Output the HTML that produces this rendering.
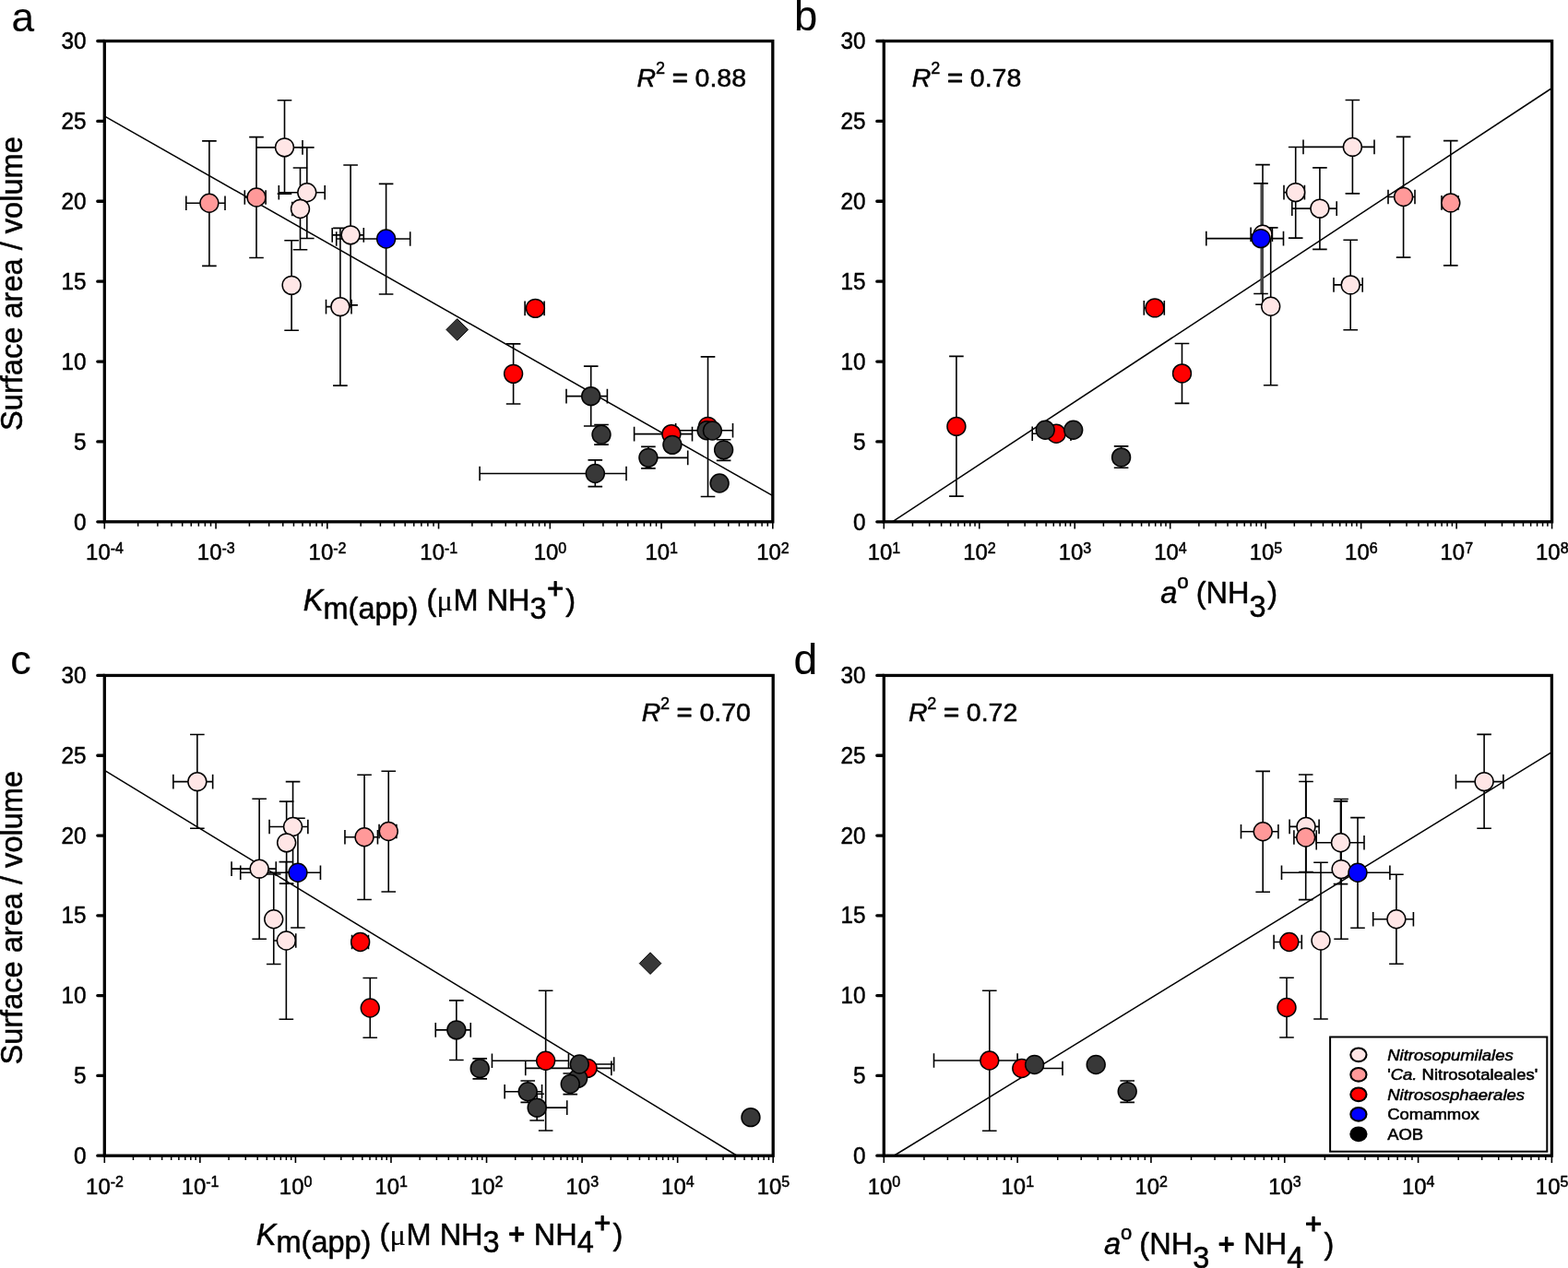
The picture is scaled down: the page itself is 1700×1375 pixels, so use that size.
<!DOCTYPE html>
<html lang="en"><head><meta charset="utf-8"><title>Surface area / volume vs. kinetics</title>
<style>html,body{margin:0;padding:0;background:#fff}body{width:1700px;height:1375px;overflow:hidden}svg{display:block}text{font-family:'Liberation Sans', sans-serif;fill:#000;stroke:#000;stroke-width:.5px;stroke-linejoin:round}</style>
</head><body>
<svg width="1700" height="1375" viewBox="0 0 1700 1375">
<rect width="1700" height="1375" fill="#fff"/>
<g id="panel-a">
<line x1="113.6" y1="126.2" x2="837.9" y2="537.6" stroke="#000" stroke-width="1.5"/>
<g transform="translate(0.1 0.35)">
<g fill="none" stroke="#000" stroke-width="1.6">
<path d="M308.4 108.4V209.8M300.6 108.4H316.2M300.6 209.8H316.2M277.9 159.5H327.9M327.9 151.7V167.3"/>
<path d="M332.7 159.5V258.2M324.9 159.5H340.5M324.9 258.2H340.5M302.2 208.4H352.1M302.2 200.6V216.2M352.1 200.6V216.2"/>
<path d="M325.4 181.6V270.4M317.6 181.6H333.2M317.6 270.4H333.2M316.7 226.2H331M316.7 218.4V234M331 218.4V234"/>
<path d="M316 260.4V357.9M308.2 260.4H323.8M308.2 357.9H323.8"/>
<path d="M368.8 247V417.8M361 247H376.6M361 417.8H376.6M353.4 332.3H380.9M353.4 324.5V340.1M380.9 324.5V340.1"/>
<path d="M380 178.7V330.5M372.2 178.7H387.8M372.2 330.5H387.8M360.1 254.5H394.2M360.1 246.7V262.3M394.2 246.7V262.3"/>
<path d="M226.8 152.5V288M219 152.5H234.6M219 288H234.6M201.7 219.9H243.9M201.7 212.1V227.7M243.9 212.1V227.7"/>
<path d="M277.9 148.3V279.2M270.1 148.3H285.7M270.1 279.2H285.7M265.2 213.6H288M265.2 205.8V221.4M288 205.8V221.4"/>
<path d="M556.5 372.5V437.6M548.7 372.5H564.3M548.7 437.6H564.3"/>
<path d="M569 334H590M569 326.2V341.8M590 326.2V341.8"/>
<path d="M687.5 470.3H750.4M687.5 462.5V478.1M750.4 462.5V478.1"/>
<path d="M767.4 386.5V538.2M759.6 386.5H775.2M759.6 538.2H775.2"/>
<path d="M418.5 199V318.7M410.7 199H426.3M410.7 318.7H426.3M364.6 258.6H444.6M364.6 250.8V266.4M444.6 250.8V266.4"/>
<path d="M640.6 396.8V461.6M632.8 396.8H648.4M632.8 461.6H648.4M613.9 429.3H658.3M613.9 421.5V437.1M658.3 421.5V437.1"/>
<path d="M651.9 460.2V481.8M644.1 460.2H659.7M644.1 481.8H659.7"/>
<path d="M645.2 498.5V527.3M637.4 498.5H653M637.4 527.3H653M520 513.1H678.9M520 505.3V520.9M678.9 505.3V520.9"/>
<path d="M702.8 484V507.5M695 484H710.6M695 507.5H710.6M702.8 496H745.6M745.6 488.2V503.8"/>
<path d="M732.5 466.4H794.4M732.5 458.6V474.2M794.4 458.6V474.2"/>
<path d="M784.5 476.4V499M776.7 476.4H792.3M776.7 499H792.3"/>
</g>
<g stroke="#000" stroke-width="1.5">
<circle cx="308.4" cy="159.5" r="9.95" fill="#FFE6E6"/>
<circle cx="332.7" cy="208.4" r="9.95" fill="#FFE6E6"/>
<circle cx="325.4" cy="226.2" r="9.95" fill="#FFE6E6"/>
<circle cx="316" cy="309" r="9.95" fill="#FFE6E6"/>
<circle cx="368.8" cy="332.3" r="9.95" fill="#FFE6E6"/>
<circle cx="380" cy="254.5" r="9.95" fill="#FFE6E6"/>
<circle cx="226.8" cy="219.9" r="9.95" fill="#FF9999"/>
<circle cx="277.9" cy="213.6" r="9.95" fill="#FF9999"/>
<circle cx="556.5" cy="405" r="9.95" fill="#FF0000"/>
<circle cx="580.3" cy="334" r="9.95" fill="#FF0000"/>
<circle cx="727.8" cy="470.3" r="9.95" fill="#FF0000"/>
<circle cx="767.4" cy="462" r="9.95" fill="#FF0000"/>
<circle cx="418.5" cy="258.6" r="9.95" fill="#0000FF"/>
<path d="M483.8 357.1L495.6 345.3L507.4 357.1L495.6 368.9Z" fill="#383838" stroke-width="1"/>
<circle cx="640.6" cy="429.3" r="9.95" fill="#383838"/>
<circle cx="651.9" cy="470.9" r="9.95" fill="#383838"/>
<circle cx="645.2" cy="513.1" r="9.95" fill="#383838"/>
<circle cx="702.8" cy="496" r="9.95" fill="#383838"/>
<circle cx="728.8" cy="482" r="9.95" fill="#383838"/>
<circle cx="766" cy="466.4" r="9.95" fill="#383838"/>
<circle cx="772.3" cy="466.6" r="9.95" fill="#383838"/>
<circle cx="784.5" cy="487.5" r="9.95" fill="#383838"/>
<circle cx="780" cy="523.6" r="9.95" fill="#383838"/>
</g>
</g>
<rect x="113.3" y="44.5" width="724.5" height="521.3" fill="none" stroke="#000" stroke-width="3.3"/>
<path d="M105.8 565.8H113.3M105.8 478.92H113.3M105.8 392.03H113.3M105.8 305.15H113.3M105.8 218.27H113.3M105.8 131.38H113.3M105.8 44.5H113.3" stroke="#000" stroke-width="3.3" stroke-linecap="round" fill="none"/>
<path d="M113.3 565.8V573.6M234.05 565.8V573.6M354.8 565.8V573.6M475.55 565.8V573.6M596.3 565.8V573.6M717.05 565.8V573.6M837.8 565.8V573.6" stroke="#000" stroke-width="1.6" fill="none"/>
<path d="M149.65 565.8V570.7M170.91 565.8V570.7M186 565.8V570.7M197.7 565.8V570.7M207.26 565.8V570.7M215.35 565.8V570.7M222.35 565.8V570.7M228.52 565.8V570.7M270.4 565.8V570.7M291.66 565.8V570.7M306.75 565.8V570.7M318.45 565.8V570.7M328.01 565.8V570.7M336.1 565.8V570.7M343.1 565.8V570.7M349.27 565.8V570.7M391.15 565.8V570.7M412.41 565.8V570.7M427.5 565.8V570.7M439.2 565.8V570.7M448.76 565.8V570.7M456.85 565.8V570.7M463.85 565.8V570.7M470.02 565.8V570.7M511.9 565.8V570.7M533.16 565.8V570.7M548.25 565.8V570.7M559.95 565.8V570.7M569.51 565.8V570.7M577.6 565.8V570.7M584.6 565.8V570.7M590.77 565.8V570.7M632.65 565.8V570.7M653.91 565.8V570.7M669 565.8V570.7M680.7 565.8V570.7M690.26 565.8V570.7M698.35 565.8V570.7M705.35 565.8V570.7M711.52 565.8V570.7M753.4 565.8V570.7M774.66 565.8V570.7M789.75 565.8V570.7M801.45 565.8V570.7M811.01 565.8V570.7M819.1 565.8V570.7M826.1 565.8V570.7M832.27 565.8V570.7" stroke="#000" stroke-width="1.5" fill="none"/>
<g font-size="25" text-anchor="end">
<text transform="translate(93.5 574.5) scale(.972 1)">0</text>
<text transform="translate(93.5 487.62) scale(.972 1)">5</text>
<text transform="translate(93.5 400.73) scale(.972 1)">10</text>
<text transform="translate(93.5 313.85) scale(.972 1)">15</text>
<text transform="translate(93.5 226.97) scale(.972 1)">20</text>
<text transform="translate(93.5 140.08) scale(.972 1)">25</text>
<text transform="translate(93.5 53.2) scale(.972 1)">30</text>
</g>
<g font-size="23.9" text-anchor="middle">
<text x="113.5" y="607">10<tspan font-size="16" dy="-7.5">-4</tspan></text>
<text x="234.25" y="607">10<tspan font-size="16" dy="-7.5">-3</tspan></text>
<text x="355" y="607">10<tspan font-size="16" dy="-7.5">-2</tspan></text>
<text x="475.75" y="607">10<tspan font-size="16" dy="-7.5">-1</tspan></text>
<text x="596.5" y="607">10<tspan font-size="16" dy="-7.5">0</tspan></text>
<text x="717.25" y="607">10<tspan font-size="16" dy="-7.5">1</tspan></text>
<text x="838" y="607">10<tspan font-size="16" dy="-7.5">2</tspan></text>
</g>
<text x="12.5" y="33.9" font-size="44.2" style="stroke-width:.1px">a</text>
<text x="690.5" y="93.8" font-size="28.5"><tspan font-style="italic">R</tspan><tspan font-size="18" dx="0" dy="-13.6">2</tspan><tspan dy="13.6"> </tspan><tspan stroke-width="1.2">=</tspan><tspan> 0.88</tspan></text>
<text transform="translate(24.1 307.55) rotate(-90)" font-size="32.6" text-anchor="middle">Surface area / volume</text>
<text x="328.8" y="662.3" font-size="32.5"><tspan font-style="italic">K</tspan><tspan dy="8.2">m(app)</tspan><tspan dy="-8.2"> (</tspan><tspan font-family="'Liberation Serif', serif" stroke-width="0.2" dx="0.3">μ</tspan><tspan dx="0.5">M NH</tspan><tspan dy="8.2">3</tspan><tspan font-size="30.5" dx="0.6" dy="-21.6" stroke-width="1.05">+</tspan><tspan dx="2.2" dy="13.4">)</tspan></text>
</g>
<g id="panel-b">
<line x1="967.4" y1="565.8" x2="1682.6" y2="95.5" stroke="#000" stroke-width="1.5"/>
<g transform="translate(0 -0.1)">
<g fill="none" stroke="#000" stroke-width="1.6">
<path d="M1466.4 108.6V210M1458.6 108.6H1474.2M1458.6 210H1474.2M1413 159.5H1490M1413 151.7V167.3M1490 151.7V167.3"/>
<path d="M1404.7 159.6V258.2M1396.9 159.6H1412.5M1396.9 258.2H1412.5M1392 208.7H1414.4M1392 200.9V216.5M1414.4 200.9V216.5"/>
<path d="M1430.9 182V270.5M1423.1 182H1438.7M1423.1 270.5H1438.7M1400.8 226.2H1449.2M1400.8 218.4V234M1449.2 218.4V234"/>
<path d="M1464.2 260.4V357.9M1456.4 260.4H1472M1456.4 357.9H1472M1446 309H1477.2M1446 301.2V316.8M1477.2 301.2V316.8"/>
<path d="M1369 178.7V330.4M1361.2 178.7H1376.8M1361.2 330.4H1376.8M1356.1 254.4H1379.4M1356.1 246.6V262.2M1379.4 246.6V262.2"/>
<path d="M1377.7 247V417.8M1369.9 247H1385.5M1369.9 417.8H1385.5"/>
<path d="M1521.6 148.5V279.2M1513.8 148.5H1529.4M1513.8 279.2H1529.4M1505 213.6H1534M1505 205.8V221.4M1534 205.8V221.4"/>
<path d="M1572.8 152.7V288M1565 152.7H1580.6M1565 288H1580.6M1563 220H1581M1563 212.2V227.8M1581 212.2V227.8"/>
<path d="M1036.9 386.5V538.2M1029.1 386.5H1044.7M1029.1 538.2H1044.7"/>
<path d="M1119.2 470.4H1161M1119.2 462.6V478.2M1161 462.6V478.2"/>
<path d="M1240.3 334H1262.3M1240.3 326.2V341.8M1262.3 326.2V341.8"/>
<path d="M1281.5 372.6V437.5M1273.7 372.6H1289.3M1273.7 437.5H1289.3"/>
<line x1="1368.2" y1="199" x2="1368.2" y2="318.6" stroke="#444" stroke-width="3.5"/>
<path d="M1359.2 199H1374.8M1359.2 318.6H1374.8M1307.8 258.7H1391.5M1307.8 250.9V266.5M1391.5 250.9V266.5"/>
<path d="M1215.6 484V507.4M1207.8 484H1223.4M1207.8 507.4H1223.4"/>
</g>
<g stroke="#000" stroke-width="1.5">
<circle cx="1466.4" cy="159.5" r="9.95" fill="#FFE6E6"/>
<circle cx="1404.7" cy="208.7" r="9.95" fill="#FFE6E6"/>
<circle cx="1430.9" cy="226.2" r="9.95" fill="#FFE6E6"/>
<circle cx="1464.2" cy="309" r="9.95" fill="#FFE6E6"/>
<circle cx="1369" cy="254.4" r="9.95" fill="#FFE6E6"/>
<circle cx="1377.7" cy="332.4" r="9.95" fill="#FFE6E6"/>
<circle cx="1521.6" cy="213.6" r="9.95" fill="#FF9999"/>
<circle cx="1572.8" cy="220" r="9.95" fill="#FF9999"/>
<circle cx="1036.9" cy="462.5" r="9.95" fill="#FF0000"/>
<circle cx="1145.2" cy="470.4" r="9.95" fill="#FF0000"/>
<circle cx="1252" cy="334" r="9.95" fill="#FF0000"/>
<circle cx="1281.5" cy="405" r="9.95" fill="#FF0000"/>
<circle cx="1367" cy="258.7" r="9.95" fill="#0000FF"/>
<circle cx="1133.2" cy="466.4" r="9.95" fill="#383838"/>
<circle cx="1163.7" cy="466.4" r="9.95" fill="#383838"/>
<circle cx="1215.6" cy="496" r="9.95" fill="#383838"/>
</g>
</g>
<rect x="958.3" y="44.5" width="724.3" height="521.3" fill="none" stroke="#000" stroke-width="3.3"/>
<path d="M950.8 565.8H958.3M950.8 478.92H958.3M950.8 392.03H958.3M950.8 305.15H958.3M950.8 218.27H958.3M950.8 131.38H958.3M950.8 44.5H958.3" stroke="#000" stroke-width="3.3" stroke-linecap="round" fill="none"/>
<path d="M958.3 565.8V573.6M1061.77 565.8V573.6M1165.24 565.8V573.6M1268.71 565.8V573.6M1372.19 565.8V573.6M1475.66 565.8V573.6M1579.13 565.8V573.6M1682.6 565.8V573.6" stroke="#000" stroke-width="1.6" fill="none"/>
<path d="M989.45 565.8V570.7M1007.67 565.8V570.7M1020.6 565.8V570.7M1030.62 565.8V570.7M1038.82 565.8V570.7M1045.74 565.8V570.7M1051.74 565.8V570.7M1057.04 565.8V570.7M1092.92 565.8V570.7M1111.14 565.8V570.7M1124.07 565.8V570.7M1134.09 565.8V570.7M1142.29 565.8V570.7M1149.21 565.8V570.7M1155.22 565.8V570.7M1160.51 565.8V570.7M1196.39 565.8V570.7M1214.61 565.8V570.7M1227.54 565.8V570.7M1237.57 565.8V570.7M1245.76 565.8V570.7M1252.69 565.8V570.7M1258.69 565.8V570.7M1263.98 565.8V570.7M1299.86 565.8V570.7M1318.08 565.8V570.7M1331.01 565.8V570.7M1341.04 565.8V570.7M1349.23 565.8V570.7M1356.16 565.8V570.7M1362.16 565.8V570.7M1367.45 565.8V570.7M1403.33 565.8V570.7M1421.55 565.8V570.7M1434.48 565.8V570.7M1444.51 565.8V570.7M1452.7 565.8V570.7M1459.63 565.8V570.7M1465.63 565.8V570.7M1470.92 565.8V570.7M1506.81 565.8V570.7M1525.03 565.8V570.7M1537.95 565.8V570.7M1547.98 565.8V570.7M1556.17 565.8V570.7M1563.1 565.8V570.7M1569.1 565.8V570.7M1574.39 565.8V570.7M1610.28 565.8V570.7M1628.5 565.8V570.7M1641.42 565.8V570.7M1651.45 565.8V570.7M1659.64 565.8V570.7M1666.57 565.8V570.7M1672.57 565.8V570.7M1677.87 565.8V570.7" stroke="#000" stroke-width="1.5" fill="none"/>
<g font-size="25" text-anchor="end">
<text transform="translate(938.5 574.5) scale(.972 1)">0</text>
<text transform="translate(938.5 487.62) scale(.972 1)">5</text>
<text transform="translate(938.5 400.73) scale(.972 1)">10</text>
<text transform="translate(938.5 313.85) scale(.972 1)">15</text>
<text transform="translate(938.5 226.97) scale(.972 1)">20</text>
<text transform="translate(938.5 140.08) scale(.972 1)">25</text>
<text transform="translate(938.5 53.2) scale(.972 1)">30</text>
</g>
<g font-size="23.9" text-anchor="middle">
<text x="958.5" y="607">10<tspan font-size="16" dy="-7.5">1</tspan></text>
<text x="1061.97" y="607">10<tspan font-size="16" dy="-7.5">2</tspan></text>
<text x="1165.44" y="607">10<tspan font-size="16" dy="-7.5">3</tspan></text>
<text x="1268.91" y="607">10<tspan font-size="16" dy="-7.5">4</tspan></text>
<text x="1372.39" y="607">10<tspan font-size="16" dy="-7.5">5</tspan></text>
<text x="1475.86" y="607">10<tspan font-size="16" dy="-7.5">6</tspan></text>
<text x="1579.33" y="607">10<tspan font-size="16" dy="-7.5">7</tspan></text>
<text x="1682.8" y="607">10<tspan font-size="16" dy="-7.5">8</tspan></text>
</g>
<text x="861.1" y="33.4" font-size="45.3" style="stroke-width:.1px">b</text>
<text x="988.7" y="93.8" font-size="28.5"><tspan font-style="italic">R</tspan><tspan font-size="18" dx="0" dy="-13.6">2</tspan><tspan dy="13.6"> </tspan><tspan stroke-width="1.2">=</tspan><tspan> 0.78</tspan></text>
<text x="1258.2" y="654.3" font-size="32.5"><tspan font-style="italic">a</tspan><tspan font-size="22.3" dy="-16.6">o</tspan><tspan dx="-1" dy="16.6"> (NH</tspan><tspan dy="14.2">3</tspan><tspan dx="1.6" dy="-14.2">)</tspan></text>
</g>
<g id="panel-c">
<line x1="113.8" y1="835.7" x2="798.6" y2="1253" stroke="#000" stroke-width="1.5"/>
<g transform="translate(0.25 0.25)">
<g fill="none" stroke="#000" stroke-width="1.6">
<path d="M213.6 796.2V898M205.8 796.2H221.4M205.8 898H221.4M187.6 847.4H230.4M187.6 839.6V855.2M230.4 839.6V855.2"/>
<path d="M317.3 847.4V945.5M309.5 847.4H325.1M309.5 945.5H325.1M291.8 896.3H333.6M291.8 888.5V904.1M333.6 888.5V904.1"/>
<path d="M310.4 868.9V957.9M302.6 868.9H318.2M302.6 957.9H318.2"/>
<path d="M296.5 947.8V1045.3M288.7 947.8H304.3M288.7 1045.3H304.3"/>
<path d="M280.9 866V1018M273.1 866H288.7M273.1 1018H288.7M250.8 941.9H299M250.8 934.1V949.7M299 934.1V949.7"/>
<path d="M310.1 934.4V1105M302.3 934.4H317.9M302.3 1105H317.9M296.5 1019.7H320.5M320.5 1011.9V1027.5"/>
<path d="M394.8 840V975.2M387 840H402.6M387 975.2H402.6M373.7 907.5H409.2M373.7 899.7V915.3M409.2 899.7V915.3"/>
<path d="M421 836V966.7M413.2 836H428.8M413.2 966.7H428.8M410.8 901.2H429.6M410.8 893.4V909M429.6 893.4V909"/>
<path d="M381.3 1021.3H399.2M381.3 1013.5V1029.1M399.2 1013.5V1029.1"/>
<path d="M401 1060.2V1125M393.2 1060.2H408.8M393.2 1125H408.8"/>
<path d="M591.4 1074V1225.7M583.6 1074H599.2M583.6 1225.7H599.2M533.2 1150H616.2M533.2 1142.2V1157.8M616.2 1142.2V1157.8"/>
<path d="M569.5 1158.1H662.6M569.5 1150.3V1165.9M662.6 1150.3V1165.9"/>
<path d="M322.7 887V1005.8M314.9 887H330.5M314.9 1005.8H330.5M260.5 946H347.2M260.5 938.2V953.8M347.2 938.2V953.8"/>
<path d="M494.6 1084.6V1149.2M486.8 1084.6H502.4M486.8 1149.2H502.4M472 1116.6H510M472 1108.8V1124.4M510 1108.8V1124.4"/>
<path d="M520 1147.6V1169.6M512.2 1147.6H527.8M512.2 1169.6H527.8"/>
<path d="M628 1153.8H665.4M665.4 1146V1161.6"/>
<path d="M618 1163.8V1186.4M610.2 1163.8H625.8M610.2 1186.4H625.8"/>
<path d="M572 1171.7V1195.1M564.2 1171.7H579.8M564.2 1195.1H579.8M546.9 1183.5H587.3M546.9 1175.7V1191.3M587.3 1175.7V1191.3"/>
<path d="M581.9 1186V1214.8M574.1 1186H589.7M574.1 1214.8H589.7M581.9 1200.9H614.5M614.5 1193.1V1208.7"/>
</g>
<g stroke="#000" stroke-width="1.5">
<circle cx="213.6" cy="847.4" r="9.95" fill="#FFE6E6"/>
<circle cx="317.3" cy="896.3" r="9.95" fill="#FFE6E6"/>
<circle cx="310.4" cy="913.6" r="9.95" fill="#FFE6E6"/>
<circle cx="296.5" cy="996.5" r="9.95" fill="#FFE6E6"/>
<circle cx="280.9" cy="941.9" r="9.95" fill="#FFE6E6"/>
<circle cx="310.1" cy="1019.7" r="9.95" fill="#FFE6E6"/>
<circle cx="394.8" cy="907.5" r="9.95" fill="#FF9999"/>
<circle cx="421" cy="901.2" r="9.95" fill="#FF9999"/>
<circle cx="390.4" cy="1021.3" r="9.95" fill="#FF0000"/>
<circle cx="401" cy="1092.8" r="9.95" fill="#FF0000"/>
<circle cx="591.4" cy="1150" r="9.95" fill="#FF0000"/>
<circle cx="636.8" cy="1158.1" r="9.95" fill="#FF0000"/>
<circle cx="322.7" cy="946" r="9.95" fill="#0000FF"/>
<path d="M693 1044.4L704.8 1032.6L716.6 1044.4L704.8 1056.2Z" fill="#383838" stroke-width="1"/>
<circle cx="494.6" cy="1116.6" r="9.95" fill="#383838"/>
<circle cx="520" cy="1158.4" r="9.95" fill="#383838"/>
<circle cx="626.4" cy="1169.1" r="9.95" fill="#383838"/>
<circle cx="628" cy="1153.8" r="9.95" fill="#383838"/>
<circle cx="618" cy="1175.2" r="9.95" fill="#383838"/>
<circle cx="572" cy="1183.5" r="9.95" fill="#383838"/>
<circle cx="581.9" cy="1200.9" r="9.95" fill="#383838"/>
<circle cx="813.7" cy="1211.4" r="9.95" fill="#383838"/>
</g>
</g>
<rect x="113.3" y="732.45" width="724.9" height="520.75" fill="none" stroke="#000" stroke-width="3.3"/>
<path d="M105.8 1253.2H113.3M105.8 1166.41H113.3M105.8 1079.62H113.3M105.8 992.83H113.3M105.8 906.03H113.3M105.8 819.24H113.3M105.8 732.45H113.3" stroke="#000" stroke-width="3.3" stroke-linecap="round" fill="none"/>
<path d="M113.3 1253.2V1261M216.86 1253.2V1261M320.41 1253.2V1261M423.97 1253.2V1261M527.53 1253.2V1261M631.09 1253.2V1261M734.64 1253.2V1261M838.2 1253.2V1261" stroke="#000" stroke-width="1.6" fill="none"/>
<path d="M144.47 1253.2V1258.1M162.71 1253.2V1258.1M175.65 1253.2V1258.1M185.68 1253.2V1258.1M193.88 1253.2V1258.1M200.82 1253.2V1258.1M206.82 1253.2V1258.1M212.12 1253.2V1258.1M248.03 1253.2V1258.1M266.27 1253.2V1258.1M279.2 1253.2V1258.1M289.24 1253.2V1258.1M297.44 1253.2V1258.1M304.37 1253.2V1258.1M310.38 1253.2V1258.1M315.68 1253.2V1258.1M351.59 1253.2V1258.1M369.82 1253.2V1258.1M382.76 1253.2V1258.1M392.8 1253.2V1258.1M401 1253.2V1258.1M407.93 1253.2V1258.1M413.94 1253.2V1258.1M419.23 1253.2V1258.1M455.15 1253.2V1258.1M473.38 1253.2V1258.1M486.32 1253.2V1258.1M496.35 1253.2V1258.1M504.55 1253.2V1258.1M511.49 1253.2V1258.1M517.49 1253.2V1258.1M522.79 1253.2V1258.1M558.7 1253.2V1258.1M576.94 1253.2V1258.1M589.88 1253.2V1258.1M599.91 1253.2V1258.1M608.11 1253.2V1258.1M615.04 1253.2V1258.1M621.05 1253.2V1258.1M626.35 1253.2V1258.1M662.26 1253.2V1258.1M680.5 1253.2V1258.1M693.43 1253.2V1258.1M703.47 1253.2V1258.1M711.67 1253.2V1258.1M718.6 1253.2V1258.1M724.61 1253.2V1258.1M729.9 1253.2V1258.1M765.82 1253.2V1258.1M784.05 1253.2V1258.1M796.99 1253.2V1258.1M807.03 1253.2V1258.1M815.23 1253.2V1258.1M822.16 1253.2V1258.1M828.16 1253.2V1258.1M833.46 1253.2V1258.1" stroke="#000" stroke-width="1.5" fill="none"/>
<g font-size="25" text-anchor="end">
<text transform="translate(93.5 1261.8) scale(.972 1)">0</text>
<text transform="translate(93.5 1175.01) scale(.972 1)">5</text>
<text transform="translate(93.5 1088.22) scale(.972 1)">10</text>
<text transform="translate(93.5 1001.43) scale(.972 1)">15</text>
<text transform="translate(93.5 914.63) scale(.972 1)">20</text>
<text transform="translate(93.5 827.84) scale(.972 1)">25</text>
<text transform="translate(93.5 741.05) scale(.972 1)">30</text>
</g>
<g font-size="23.9" text-anchor="middle">
<text x="113.5" y="1294.5">10<tspan font-size="16" dy="-7.5">-2</tspan></text>
<text x="217.06" y="1294.5">10<tspan font-size="16" dy="-7.5">-1</tspan></text>
<text x="320.61" y="1294.5">10<tspan font-size="16" dy="-7.5">0</tspan></text>
<text x="424.17" y="1294.5">10<tspan font-size="16" dy="-7.5">1</tspan></text>
<text x="527.73" y="1294.5">10<tspan font-size="16" dy="-7.5">2</tspan></text>
<text x="631.29" y="1294.5">10<tspan font-size="16" dy="-7.5">3</tspan></text>
<text x="734.84" y="1294.5">10<tspan font-size="16" dy="-7.5">4</tspan></text>
<text x="838.4" y="1294.5">10<tspan font-size="16" dy="-7.5">5</tspan></text>
</g>
<text x="11.2" y="730.8" font-size="45" style="stroke-width:.1px">c</text>
<text x="695.7" y="782.45" font-size="28.5"><tspan font-style="italic">R</tspan><tspan font-size="18" dx="-0.4" dy="-13">2</tspan><tspan dy="13"> </tspan><tspan stroke-width="1.2">=</tspan><tspan> 0.70</tspan></text>
<text transform="translate(24.1 995.23) rotate(-90)" font-size="32.6" text-anchor="middle">Surface area / volume</text>
<text x="277.8" y="1350" font-size="32.5"><tspan font-style="italic">K</tspan><tspan dy="8.2">m(app)</tspan><tspan dy="-8.2"> (</tspan><tspan font-family="'Liberation Serif', serif" stroke-width="0.2" dx="0.3">μ</tspan><tspan dx="0.5">M NH</tspan><tspan dy="8.2">3</tspan><tspan dy="-8.2"> </tspan><tspan font-size="30.5" dx="0.6" dy="-0.7" stroke-width="1.3">+</tspan><tspan dx="0.6" dy="0.7"> NH</tspan><tspan dy="8.2">4</tspan><tspan font-size="30.5" dx="0.6" dy="-21.6" stroke-width="1.05">+</tspan><tspan dx="2.2" dy="13.4">)</tspan></text>
</g>
<g id="panel-d">
<line x1="969.6" y1="1253" x2="1682.4" y2="815.6" stroke="#000" stroke-width="1.5"/>
<g transform="translate(0 0)">
<g fill="none" stroke="#000" stroke-width="1.6">
<path d="M1609.1 796.4V898.3M1601.3 796.4H1616.9M1601.3 898.3H1616.9M1578.5 847.6H1629.9M1578.5 839.8V855.4M1629.9 839.8V855.4"/>
<path d="M1416 847.5V945.5M1408.2 847.5H1423.8M1408.2 945.5H1423.8M1398.1 896.4H1430.1M1398.1 888.6V904.2M1430.1 888.6V904.2"/>
<path d="M1453.5 868.9V958.6M1445.7 868.9H1461.3M1445.7 958.6H1461.3M1427.2 913.8H1479M1427.2 906V921.6M1479 906V921.6"/>
<path d="M1454.1 866.5V1018.3M1446.3 866.5H1461.9M1446.3 1018.3H1461.9"/>
<path d="M1432 935.3V1105M1424.2 935.3H1439.8M1424.2 1105H1439.8"/>
<path d="M1513.9 948.3V1045.2M1506.1 948.3H1521.7M1506.1 1045.2H1521.7M1488.7 996.7H1532.4M1488.7 988.9V1004.5M1532.4 988.9V1004.5"/>
<path d="M1369.2 836.4V967.3M1361.4 836.4H1377M1361.4 967.3H1377M1345.5 901.7H1385.9M1345.5 893.9V909.5M1385.9 893.9V909.5"/>
<path d="M1415.7 840V975.6M1407.9 840H1423.5M1407.9 975.6H1423.5M1402.9 908H1427.2M1402.9 900.2V915.8M1427.2 900.2V915.8"/>
<path d="M1381.1 1021.5H1411.3M1381.1 1013.7V1029.3M1411.3 1013.7V1029.3"/>
<path d="M1395 1060.2V1125M1387.2 1060.2H1402.8M1387.2 1125H1402.8"/>
<path d="M1107.8 1158.5H1152M1152 1150.7V1166.3"/>
<path d="M1072.8 1074.3V1226.3M1065 1074.3H1080.6M1065 1226.3H1080.6M1012.5 1150H1103.1M1012.5 1142.2V1157.8M1103.1 1142.2V1157.8"/>
<path d="M1472 886.6V1006.2M1464.2 886.6H1479.8M1464.2 1006.2H1479.8M1389.5 946.3H1506.9M1389.5 938.5V954.1M1506.9 938.5V954.1"/>
<path d="M1222.2 1172V1195.4M1214.4 1172H1230M1214.4 1195.4H1230"/>
</g>
<g stroke="#000" stroke-width="1.5">
<circle cx="1609.1" cy="847.6" r="9.95" fill="#FFE6E6"/>
<circle cx="1416" cy="896.4" r="9.95" fill="#FFE6E6"/>
<circle cx="1453.5" cy="913.8" r="9.95" fill="#FFE6E6"/>
<circle cx="1454.1" cy="942.6" r="9.95" fill="#FFE6E6"/>
<circle cx="1432" cy="1020" r="9.95" fill="#FFE6E6"/>
<circle cx="1513.9" cy="996.7" r="9.95" fill="#FFE6E6"/>
<circle cx="1369.2" cy="901.7" r="9.95" fill="#FF9999"/>
<circle cx="1415.7" cy="908" r="9.95" fill="#FF9999"/>
<circle cx="1397.8" cy="1021.5" r="9.95" fill="#FF0000"/>
<circle cx="1395" cy="1092.5" r="9.95" fill="#FF0000"/>
<circle cx="1107.8" cy="1158.5" r="9.95" fill="#FF0000"/>
<circle cx="1072.8" cy="1150" r="9.95" fill="#FF0000"/>
<circle cx="1472" cy="946.3" r="9.95" fill="#0000FF"/>
<circle cx="1121.6" cy="1154.5" r="9.95" fill="#383838"/>
<circle cx="1188.2" cy="1154.5" r="9.95" fill="#383838"/>
<circle cx="1222.2" cy="1183.6" r="9.95" fill="#383838"/>
</g>
</g>
<rect x="958.3" y="732.45" width="724.1" height="520.75" fill="none" stroke="#000" stroke-width="3.3"/>
<path d="M950.8 1253.2H958.3M950.8 1166.41H958.3M950.8 1079.62H958.3M950.8 992.83H958.3M950.8 906.03H958.3M950.8 819.24H958.3M950.8 732.45H958.3" stroke="#000" stroke-width="3.3" stroke-linecap="round" fill="none"/>
<path d="M958.3 1253.2V1261M1103.12 1253.2V1261M1247.94 1253.2V1261M1392.76 1253.2V1261M1537.58 1253.2V1261M1682.4 1253.2V1261" stroke="#000" stroke-width="1.6" fill="none"/>
<path d="M1001.9 1253.2V1258.1M1027.4 1253.2V1258.1M1045.49 1253.2V1258.1M1059.52 1253.2V1258.1M1070.99 1253.2V1258.1M1080.69 1253.2V1258.1M1089.09 1253.2V1258.1M1096.49 1253.2V1258.1M1146.72 1253.2V1258.1M1172.22 1253.2V1258.1M1190.31 1253.2V1258.1M1204.34 1253.2V1258.1M1215.81 1253.2V1258.1M1225.51 1253.2V1258.1M1233.91 1253.2V1258.1M1241.31 1253.2V1258.1M1291.54 1253.2V1258.1M1317.04 1253.2V1258.1M1335.13 1253.2V1258.1M1349.16 1253.2V1258.1M1360.63 1253.2V1258.1M1370.33 1253.2V1258.1M1378.73 1253.2V1258.1M1386.13 1253.2V1258.1M1436.36 1253.2V1258.1M1461.86 1253.2V1258.1M1479.95 1253.2V1258.1M1493.98 1253.2V1258.1M1505.45 1253.2V1258.1M1515.15 1253.2V1258.1M1523.55 1253.2V1258.1M1530.95 1253.2V1258.1M1581.18 1253.2V1258.1M1606.68 1253.2V1258.1M1624.77 1253.2V1258.1M1638.8 1253.2V1258.1M1650.27 1253.2V1258.1M1659.97 1253.2V1258.1M1668.37 1253.2V1258.1M1675.77 1253.2V1258.1" stroke="#000" stroke-width="1.5" fill="none"/>
<g font-size="25" text-anchor="end">
<text transform="translate(938.5 1261.7) scale(.972 1)">0</text>
<text transform="translate(938.5 1174.91) scale(.972 1)">5</text>
<text transform="translate(938.5 1088.12) scale(.972 1)">10</text>
<text transform="translate(938.5 1001.33) scale(.972 1)">15</text>
<text transform="translate(938.5 914.53) scale(.972 1)">20</text>
<text transform="translate(938.5 827.74) scale(.972 1)">25</text>
<text transform="translate(938.5 740.95) scale(.972 1)">30</text>
</g>
<g font-size="23.9" text-anchor="middle">
<text x="958.5" y="1294.5">10<tspan font-size="16" dy="-7.5">0</tspan></text>
<text x="1103.32" y="1294.5">10<tspan font-size="16" dy="-7.5">1</tspan></text>
<text x="1248.14" y="1294.5">10<tspan font-size="16" dy="-7.5">2</tspan></text>
<text x="1392.96" y="1294.5">10<tspan font-size="16" dy="-7.5">3</tspan></text>
<text x="1537.78" y="1294.5">10<tspan font-size="16" dy="-7.5">4</tspan></text>
<text x="1682.6" y="1294.5">10<tspan font-size="16" dy="-7.5">5</tspan></text>
</g>
<text x="860.6" y="731.2" font-size="46.2" style="stroke-width:.1px">d</text>
<text x="985.1" y="782.45" font-size="28.5"><tspan font-style="italic">R</tspan><tspan font-size="18" dx="-0.4" dy="-13">2</tspan><tspan dy="13"> </tspan><tspan stroke-width="1.2">=</tspan><tspan> 0.72</tspan></text>
<text x="1197" y="1360.4" font-size="32.5"><tspan font-style="italic">a</tspan><tspan font-size="22" dy="-16">o</tspan><tspan dx="-1" dy="16"> (NH</tspan><tspan dy="14.3">3</tspan><tspan dy="-14.3"> </tspan><tspan font-size="30.5" dx="0.6" dy="-0.7" stroke-width="1.3">+</tspan><tspan dx="0.6" dy="0.7"> NH</tspan><tspan dy="14.3">4</tspan><tspan font-size="31" dx="1.7" dy="-37.1" stroke-width="1.1">+</tspan><tspan dx="2.4" dy="22.8">)</tspan></text>
<rect x="1442.1" y="1124.5" width="235.2" height="124.2" fill="#fff" stroke="#000" stroke-width="2"/>
<ellipse cx="1472.9" cy="1143.8" rx="8.6" ry="7.35" fill="#FFE6E6" stroke="#000" stroke-width="2.1"/>
<ellipse cx="1472.9" cy="1165.3" rx="8.6" ry="7.35" fill="#FF9999" stroke="#000" stroke-width="2.1"/>
<ellipse cx="1472.9" cy="1186.8" rx="8.6" ry="7.35" fill="#FF0000" stroke="#000" stroke-width="2.1"/>
<ellipse cx="1472.9" cy="1208.3" rx="8.6" ry="7.35" fill="#0000FF" stroke="#000" stroke-width="2.1"/>
<ellipse cx="1472.9" cy="1229.8" rx="8.6" ry="7.35" fill="#000" stroke="#000" stroke-width="2.1"/>
<g font-size="16" transform="translate(1504.2 0) scale(1.155 1)">
<text x="0" y="1149.6"><tspan font-style="italic">Nitrosopumilales</tspan></text>
<text x="0" y="1171.15">'<tspan font-style="italic">Ca.</tspan> Nitrosotaleales'</text>
<text x="0" y="1192.7"><tspan font-style="italic">Nitrososphaerales</tspan></text>
<text x="0" y="1214.25">Comammox</text>
<text x="0" y="1235.8">AOB</text>
</g>
</g>
</svg>
</body></html>
